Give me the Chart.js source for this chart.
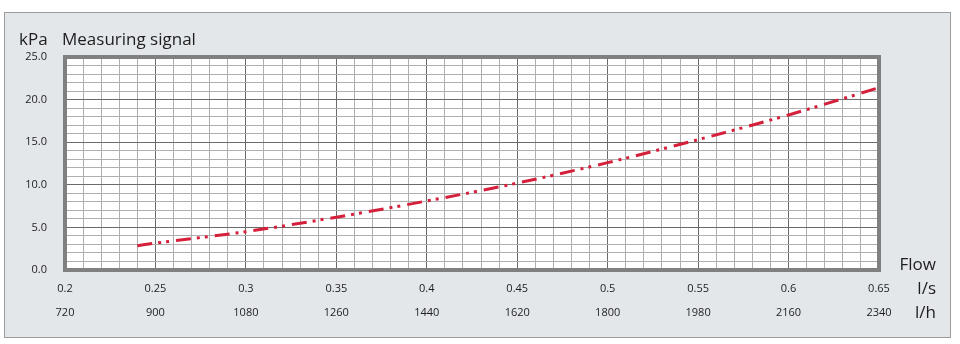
<!DOCTYPE html>
<html>
<head>
<meta charset="utf-8">
<title>Measuring signal</title>
<script src="https://cdn.jsdelivr.net/npm/chart.js@4/dist/chart.umd.min.js"></script>
<style>
  body { margin: 0; background: #fff; }
  canvas { display: block; }
</style>
</head>
<body>
<canvas id="flowChart" width="960" height="344"></canvas>
<script>
// values
const flowLs = [0.24, 0.25, 0.30, 0.35, 0.40, 0.45, 0.50, 0.55, 0.60, 0.65];
const signalKpa = [2.85, 3.15, 4.5, 6.2, 8.1, 10.2, 12.6, 15.3, 18.2, 21.4];

const lsLabels = ["0.2", "0.25", "0.3", "0.35", "0.4", "0.45", "0.5", "0.55", "0.6", "0.65"];
const lhLabels = ["720", "900", "1080", "1260", "1440", "1620", "1800", "1980", "2160", "2340"];
const yLabels = ["0.0", "5.0", "10.0", "15.0", "20.0", "25.0"];

const FONT = "'Open Sans', 'Noto Sans', sans-serif";
const TEXT = "#1d1d1f";

function isMajorX(v) { return Math.round(v * 100) % 5 === 0; }
function isMajorY(v) { return Math.round(v) % 5 === 0; }

const panelPlugin = {
    id: "panel",
    beforeDraw(chart) {
        const ctx = chart.ctx;
        const a = chart.chartArea;
        ctx.save();
        ctx.fillStyle = "#e4e7ea";
        ctx.fillRect(4, 12, 947, 326);
        ctx.strokeStyle = "#9c9c9c";
        ctx.lineWidth = 1;
        ctx.strokeRect(4.5, 12.5, 946, 325);
        ctx.fillStyle = "#ffffff";
        ctx.fillRect(a.left, a.top, a.width, a.height);
        ctx.restore();
    },
    beforeDatasetsDraw(chart) {
        const ctx = chart.ctx;
        const a = chart.chartArea;
        ctx.save();
        ctx.strokeStyle = "#808080";
        ctx.lineWidth = 4;
        ctx.strokeRect(a.left, a.top, a.width, a.height);
        ctx.restore();
    },
    afterDraw(chart) {
        const ctx = chart.ctx;
        ctx.save();
        ctx.fillStyle = TEXT;
        ctx.textBaseline = "alphabetic";
        ctx.font = "17px " + FONT;
        ctx.textAlign = "left";
        ctx.fillText("kPa", 19, 45);
        ctx.fillText("Measuring signal", 62, 45);
        ctx.textAlign = "right";
        ctx.fillText("Flow", 936, 270);
        ctx.fillText("l/s", 936, 294);
        ctx.fillText("l/h", 936, 318);
        ctx.restore();
    }
};

new Chart(document.getElementById("flowChart"), {
    type: "line",
    data: {
        datasets: [{
            data: flowLs.map((x, i) => ({ x: x, y: signalKpa[i] })),
            borderColor: "#d5203b",
            borderWidth: 3,
            borderDash: [15, 6, 3, 5, 3, 7],
            borderCapStyle: "butt",
            pointRadius: 0,
            cubicInterpolationMode: "monotone",
            fill: false
        }]
    },
    options: {
        responsive: false,
        animation: false,
        devicePixelRatio: 1,
        layout: { padding: { left: 0, right: 81, top: 57, bottom: 0 } },
        plugins: {
            legend: { display: false },
            tooltip: { enabled: false }
        },
        scales: {
            x: {
                type: "linear",
                min: 0.2,
                max: 0.65,
                afterFit(axis) { axis.height = 74; },
                border: { display: false },
                grid: {
                    drawTicks: false,
                    color: ctx => isMajorX(ctx.tick.value) ? "#6a6a6a" : "#afafaf",
                    lineWidth: 1
                },
                ticks: {
                    stepSize: 0.01,
                    maxTicksLimit: 60,
                    autoSkip: false,
                    maxRotation: 0,
                    minRotation: 0,
                    padding: 7,
                    color: TEXT,
                    font: { family: FONT, size: 11, lineHeight: 2.18 },
                    callback(value) {
                        if (!isMajorX(value)) return "";
                        const i = Math.round((value - 0.2) / 0.05);
                        return [lsLabels[i], lhLabels[i]];
                    }
                }
            },
            y: {
                min: 0,
                max: 25,
                afterFit(axis) { axis.width = 65; },
                border: { display: false },
                grid: {
                    drawTicks: false,
                    color: ctx => isMajorY(ctx.tick.value) ? "#6a6a6a" : "#afafaf",
                    lineWidth: 1
                },
                ticks: {
                    stepSize: 1,
                    maxTicksLimit: 30,
                    autoSkip: false,
                    padding: 18,
                    color: TEXT,
                    font: { family: FONT, size: 11 },
                    callback(value) {
                        return isMajorY(value) ? yLabels[Math.round(value / 5)] : "";
                    }
                }
            }
        }
    },
    plugins: [panelPlugin]
});
</script>
</body>
</html>
